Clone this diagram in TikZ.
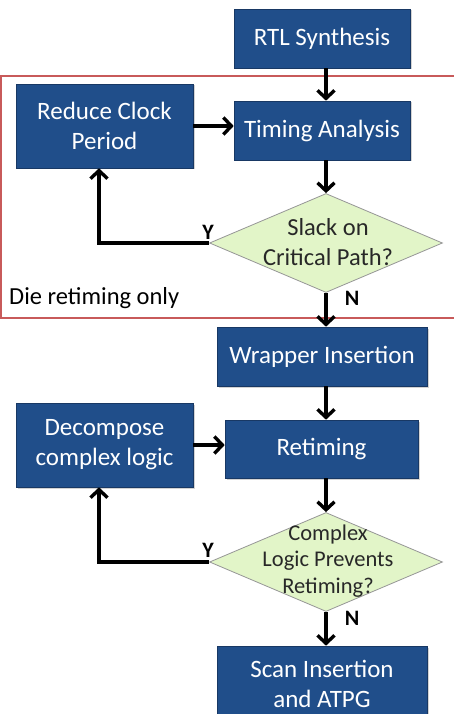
\documentclass[tikz,border=0pt]{standalone}
\usepackage{fontspec}
\setmainfont{Carlito}
\usetikzlibrary{shapes.geometric,arrows.meta,shadows}
\definecolor{boxblue}{RGB}{32,78,138}
\definecolor{boxedge}{RGB}{24,56,100}
\definecolor{dfill}{RGB}{226,245,200}
\definecolor{dedge}{RGB}{150,150,150}
\definecolor{frame}{RGB}{200,90,90}
\definecolor{dtext}{RGB}{40,40,40}
\tikzset{
  bluebox/.style={draw=boxedge, line width=0.6pt, fill=boxblue, text=white,
    font=\fontsize{25}{30}\selectfont, align=center, inner sep=0pt,
    drop shadow={shadow xshift=1.5pt, shadow yshift=-1.5pt, opacity=0.35}},
  decision/.style={diamond, draw=dedge, line width=0.8pt, fill=dfill, inner sep=0pt},
  dtxt/.style={text=dtext, align=center, inner sep=0pt},
  arr/.style={line width=3.4pt, -{Straight Barb[length=8pt,width=17pt,line width=3.4pt]}},
  yn/.style={font=\fontsize{22}{22}\selectfont\bfseries, inner sep=0pt},
}
\begin{document}
\begin{tikzpicture}[x=1pt,y=-1pt]
\useasboundingbox (0,0) rectangle (454,714);
% frame
\draw[frame, line width=2.2pt] (470,76) -- (1,76) -- (1,318) -- (470,318);
\node[anchor=west, inner sep=0pt, font=\fontsize{24.5}{24.5}\selectfont] (die) at (9,298) {Die retiming only};
% boxes
\node[bluebox, minimum width=176pt, minimum height=59pt] (rtl) at (322,38.5) {RTL Synthesis};
\node[bluebox, minimum width=177pt, minimum height=84pt] (reduce) at (104.5,126) {Reduce Clock\\Period};
\node[bluebox, minimum width=176pt, minimum height=59pt] (timing) at (322,130.5) {Timing Analysis};
\node[decision, minimum width=233pt, minimum height=99pt] (d1) at (326,243) {};
\node[dtxt, font=\fontsize{24.5}{29.5}\selectfont] (d1t) at (328,242) {Slack on\\Critical Path?};
\node[bluebox, minimum width=210pt, minimum height=59pt] (wrap) at (322,356.5) {Wrapper Insertion};
\node[bluebox, minimum width=177pt, minimum height=84pt] (decomp) at (104.5,445) {Decompose\\complex logic};
\node[bluebox, minimum width=193pt, minimum height=58pt] (ret) at (321.5,449) {Retiming};
\node[decision, minimum width=233pt, minimum height=99pt] (d2) at (326,562) {};
\node[dtxt, font=\fontsize{22.5}{26.5}\selectfont] (d2t) at (328,561) {Complex\\Logic Prevents\\Retiming?};
\node[bluebox, minimum width=210pt, minimum height=80pt] (scan) at (322,686) {};
\node[text=white, font=\fontsize{25}{30}\selectfont, align=center, inner sep=0pt] (scant) at (322,684) {Scan Insertion\\and ATPG};
% labels
\node[yn] (y1) at (208,232) {Y};
\node[yn] (n1) at (352,298) {N};
\node[yn] (y2) at (208,550) {Y};
\node[yn] (n2) at (352,618) {N};
% arrows
\draw[arr] (rtl.south -| d1.north) -- (timing.north -| d1.north);
\draw[arr] (timing.south -| d1.north) -- (d1.north);
\draw[arr] (reduce.east) -- (reduce.east -| timing.west);
\draw[arr] (d1.west) -| ([xshift=-5.5pt]reduce.south);
\draw[arr] (d1.south) -- (wrap.north -| d1.south);
\draw[arr] (wrap.south -| d1.south) -- (ret.north -| d1.south);
\draw[arr] (decomp.east) -- (decomp.east -| ret.west);
\draw[arr] (ret.south -| d2.north) -- (d2.north);
\draw[arr] (d2.west) -| ([xshift=-5.5pt]decomp.south);
\draw[arr] (d2.south) -- (scan.north -| d2.south);
\end{tikzpicture}
\end{document}
